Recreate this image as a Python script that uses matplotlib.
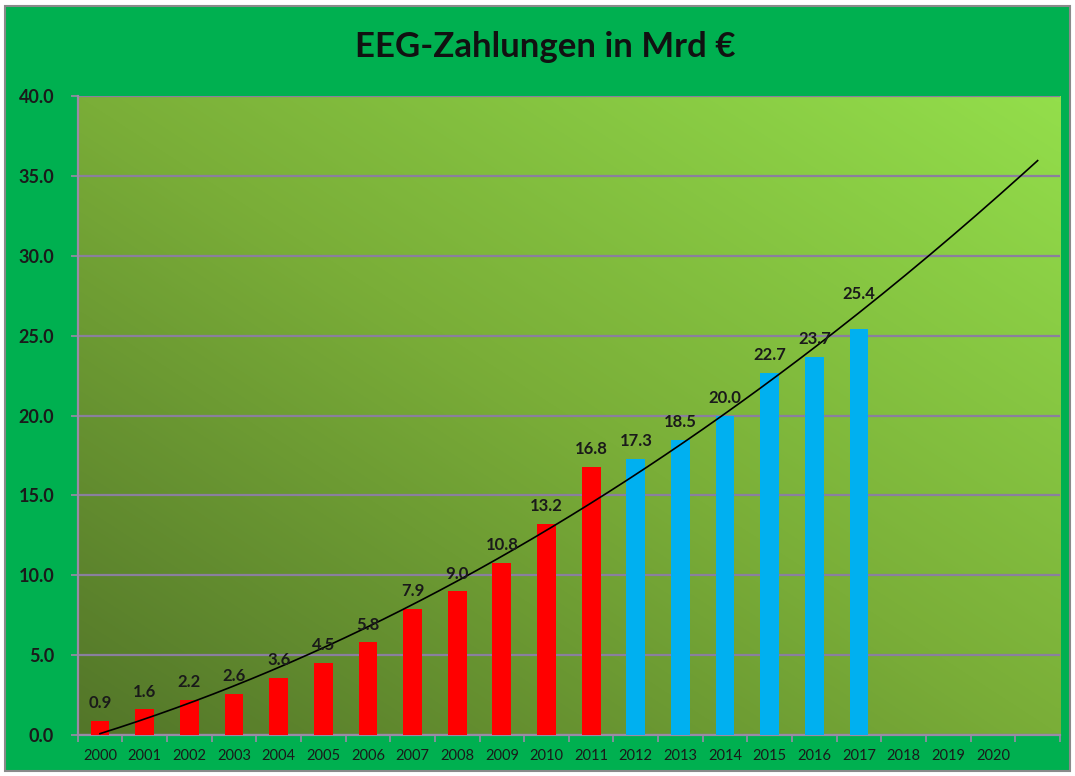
import matplotlib.pyplot as plt
import matplotlib.patches as mpatches
from matplotlib.colors import LinearSegmentedColormap
import numpy as np

# Data

years = [str(y) for y in range(2000, 2021)] + [""]
values = [0.9, 1.6, 2.2, 2.6, 3.6, 4.5, 5.8, 7.9, 9.0, 10.8, 13.2, 16.8,
          17.3, 18.5, 20.0, 22.7, 23.7, 25.4]
n_actual = 12  # 2000-2011 red, later years blue
title = "EEG-Zahlungen in Mrd €"

plt.rcParams['font.family'] = ['Lato', 'DejaVu Sans']

# Make the figure

fig = plt.figure(figsize=(10.75, 7.76), dpi=100)
fig.patch.set_facecolor("white")
fig.patches.append(mpatches.Rectangle((0.005, 0.007), 0.99, 0.985, transform=fig.transFigure,
                                      facecolor="#00B050", edgecolor="#8a8a8a", linewidth=1.5,
                                      zorder=-10))

ax = fig.add_axes([0.0723, 0.0528, 0.9137, 0.8232])
ax.set_facecolor("none")

# gradient background of the plot area

grad_cmap = LinearSegmentedColormap.from_list("g", ["#537629", "#7aae38", "#93de4b"])
gx, gy = np.meshgrid(np.linspace(0, 1, 200), np.linspace(0, 1, 200))
ax.imshow(0.5 * (gx + gy), cmap=grad_cmap, extent=[-0.5, len(years) - 0.5, 0, 40],
          origin="lower", aspect="auto", zorder=0, interpolation="bicubic")

# bars

xs = np.arange(len(values))
colors = ["#FF0000"] * n_actual + ["#00B0F0"] * (len(values) - n_actual)
ax.bar(xs, values, width=0.42, color=colors, zorder=3)

for i, (x, v) in enumerate(zip(xs, values)):
    # the last label sits higher, above the trend line
    dy = 20 if i == len(values) - 1 else 7
    ax.annotate("{:.1f}".format(v), (x, v), xytext=(0, dy), textcoords="offset points",
                ha="center", va="bottom", fontsize=12, fontweight="bold", color="#1a1a1a",
                zorder=5)

# polynomial trend with forecast

coef = np.polyfit(xs, values, 2)
tx = np.linspace(0, len(years) - 1, 200)
ax.plot(tx, np.polyval(coef, tx), color="black", linewidth=1.2, zorder=4)

# axes styling

ax.set_xlim(-0.5, len(years) - 0.5)
ax.set_ylim(0, 40)
ax.set_yticks(np.arange(0, 40.1, 5))
ax.set_yticklabels(["{:.1f}".format(t) for t in np.arange(0, 40.1, 5)])
ax.set_xticks(np.arange(len(years)))
ax.set_xticklabels(years)
ax.set_xticks(np.arange(len(years) + 1) - 0.5, minor=True)
ax.tick_params(axis="x", which="major", length=0, pad=10, labelsize=10.5, labelcolor="#1a1a1a")
ax.tick_params(axis="x", which="minor", length=5, color="#9a8aa8", width=1.2)
ax.tick_params(axis="y", length=5, color="#9a8aa8", width=1.2, pad=12, labelsize=13,
               labelcolor="#1a1a1a")
for lab in ax.get_yticklabels():
    lab.set_fontweight("bold")

ax.grid(axis="y", color="#8a7f9e", linewidth=1.6, zorder=1)
ax.set_axisbelow(True)
for side in ["left", "bottom"]:
    ax.spines[side].set_color("#9a8aa8")
    ax.spines[side].set_linewidth(1.6)
for side in ["top", "right"]:
    ax.spines[side].set_visible(False)

fig.text(0.507, 0.94, title, ha="center", va="center", fontsize=25, fontweight="bold",
         color="#111111")

fig.savefig("out.png", dpi=100, facecolor=fig.get_facecolor())
